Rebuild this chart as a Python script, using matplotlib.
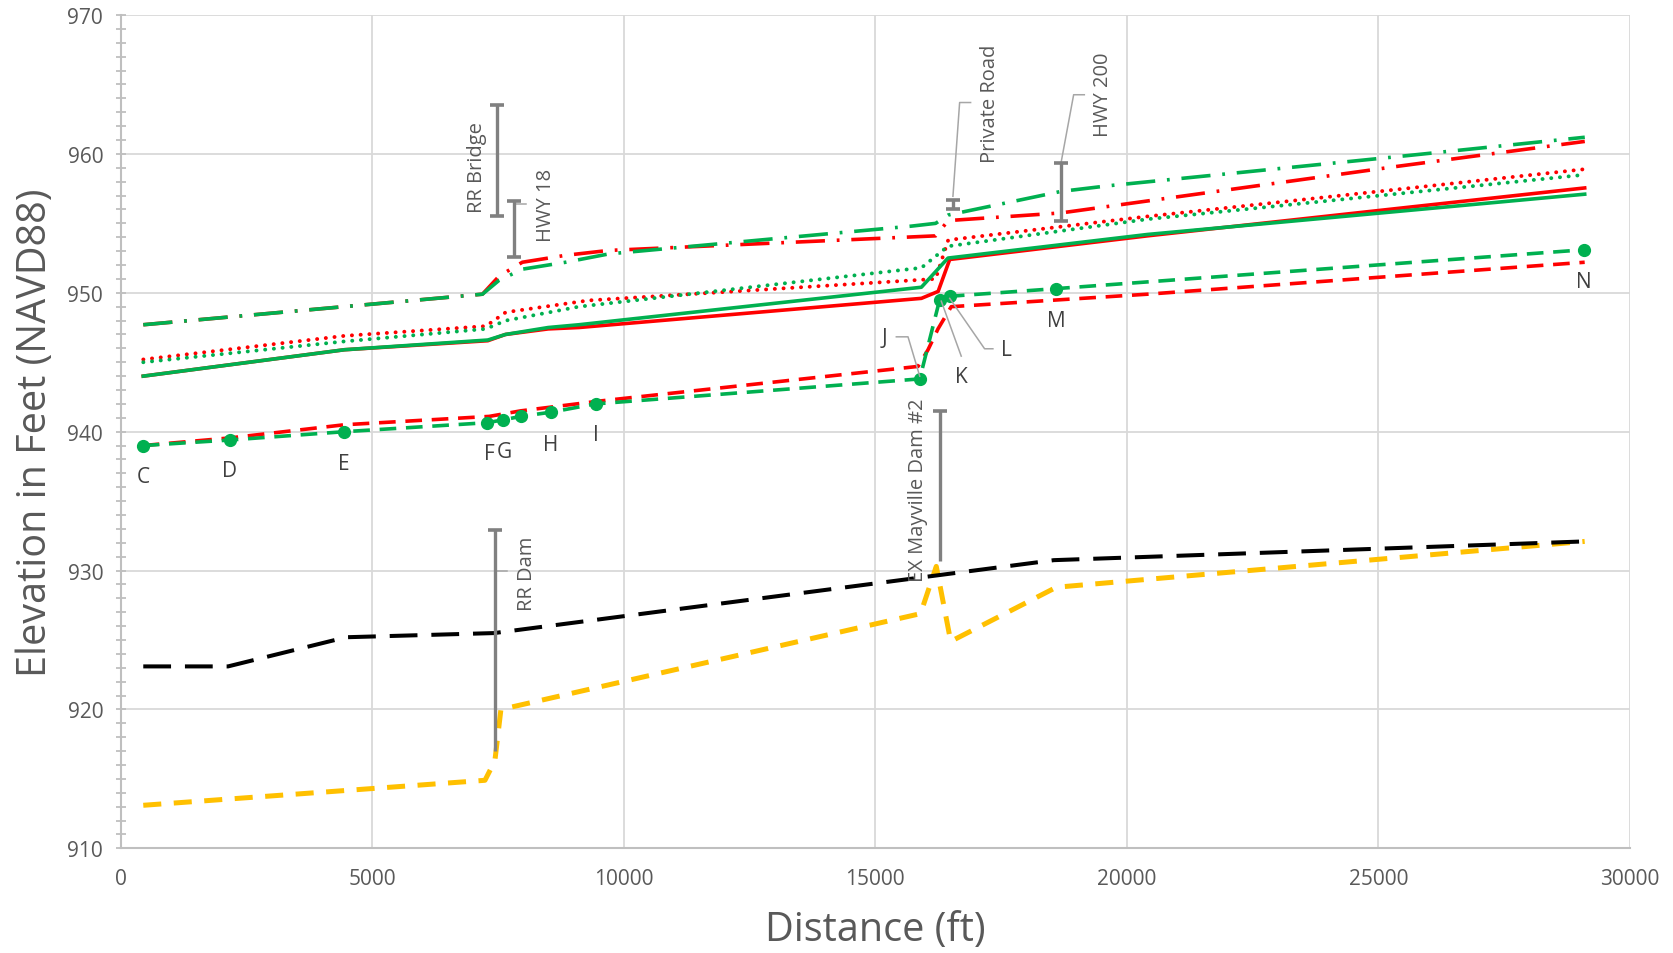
import matplotlib
matplotlib.use("Agg")
import matplotlib.pyplot as plt
from matplotlib.ticker import MultipleLocator

plt.rcParams['font.family'] = ['Open Sans', 'DejaVu Sans']
plt.rcParams['lines.scale_dashes'] = False

# ---------------- data ----------------
# solid water surface lines
red_solid_x = [452, 4450, 7300, 7650, 8500, 9110, 15917, 16250, 16480, 20410, 29100]
red_solid_y = [944.0, 945.9, 946.55, 947.0, 947.4, 947.5, 949.6, 950.1, 952.4, 954.1, 957.55]
green_solid_x = [452, 4450, 7300, 7650, 8500, 9110, 15917, 16445, 20410, 29100]
green_solid_y = [944.0, 945.9, 946.6, 947.0, 947.5, 947.7, 950.4, 952.5, 954.2, 957.1]

# dotted lines
red_dot_x = [452, 4450, 7260, 7657, 9300, 16200, 16450, 20410, 29100]
red_dot_y = [945.2, 946.9, 947.6, 948.6, 949.45, 951.0, 953.8, 955.5, 958.9]
green_dot_x = [452, 4450, 7260, 7657, 9110, 15917, 16445, 20410, 29100]
green_dot_y = [945.0, 946.5, 947.4, 948.0, 949.0, 951.8, 953.35, 955.3, 958.5]

# dash-dot lines
red_dd_x = [452, 7193, 7524, 7986, 8846, 9700, 16200, 16450, 18692, 25367, 29102]
red_dd_y = [947.7, 949.9, 951.2, 952.2, 952.7, 953.05, 954.1, 955.2, 955.75, 959.1, 960.9]
green_dd_x = [452, 7193, 7524, 7986, 8846, 9705, 15718, 16200, 16450, 18692, 19617, 25367, 29102]
green_dd_y = [947.7, 949.9, 950.9, 951.7, 952.2, 952.8, 954.8, 955.0, 955.6, 957.3, 957.7, 959.8, 961.2]

# dashed lines
red_dash_x = [440, 2171, 4451, 7326, 7954, 9506, 15850, 16049, 16247, 16510, 20410, 29100]
red_dash_y = [939.0, 939.55, 940.5, 941.1, 941.5, 942.2, 944.7, 945.9, 947.4, 949.0, 949.9, 952.2]
green_pts_x = [440, 2171, 4451, 7292, 7603, 7954, 8548, 9441, 15884, 16280, 16480, 18592, 29089]
green_pts_y = [939.0, 939.4, 940.0, 940.65, 940.85, 941.1, 941.4, 942.0, 943.8, 949.5, 949.75, 950.3, 953.1]

# channel profiles
black_x = [452, 2137, 4484, 7425, 18550, 29100]
black_y = [923.1, 923.1, 925.2, 925.5, 930.75, 932.1]
yellow_x = [452, 7243, 7440, 7560, 15900, 16213, 16500, 18600, 29100]
yellow_y = [913.1, 914.9, 916.3, 920.0, 926.9, 930.3, 924.9, 928.8, 932.1]

# point labels
pt_labels = ['C', 'D', 'E', 'F', 'G', 'H', 'I', 'J', 'K', 'L', 'M', 'N']
pt_label_x = [447, 2161, 4447, 7325, 7623, 8549, 9441, 15190, 16710, 17602, 18592, 29080]
pt_label_y = [936.8, 937.2, 937.7, 938.4, 938.6, 939.1, 939.8, 946.8, 944.0, 945.9, 948.0, 950.8]

# structures (vertical bars)
struct_names = ['RR Bridge', 'HWY 18', 'Private Road', 'HWY 200', 'EX Mayville Dam #2', 'RR Dam']
struct_x = [7490, 7821, 16544, 18692, 16280, 7438]
struct_top = [963.55, 956.6, 956.7, 959.35, 941.5, 932.9]
struct_bot = [955.5, 952.6, 956.0, 955.2, 930.7, 917.0]
struct_botcap = [True, True, True, True, False, False]
struct_text_x = [7094, 8450, 17272, 19518, 15850, 8085]
struct_text_y = [959.1, 956.35, 963.67, 964.3, 935.85, 929.85]

x_ticks = [0, 5000, 10000, 15000, 20000, 25000, 30000]
y_ticks = [910, 920, 930, 940, 950, 960, 970]

# ---------------- style ----------------
RED = '#FF0000'
GREEN = '#00B050'
YELLOW = '#FFC000'
GRAY = '#808080'
TXT = '#595959'

fig = plt.figure(figsize=(16.74, 9.54), dpi=100)
ax = fig.add_axes([0.072, 0.1097, 0.9017, 0.8735])

ax.set_xlim(0, 30000)
ax.set_ylim(910, 970)
ax.set_xticks(x_ticks)
ax.set_yticks(y_ticks)
ax.yaxis.set_minor_locator(MultipleLocator(1))
ax.grid(True, which='major', color='#D9D9D9', lw=1.3)
ax.set_axisbelow(True)
for s in ['top', 'right']:
    ax.spines[s].set_visible(False)
for s in ['left', 'bottom']:
    ax.spines[s].set_color('#BFBFBF')
    ax.spines[s].set_linewidth(1.5)
ax.tick_params(axis='y', which='both', direction='inout', length=7, width=1.3,
               color='#BFBFBF', labelsize=15, labelcolor=TXT, pad=9)
ax.tick_params(axis='x', which='both', length=0, labelsize=15, labelcolor=TXT, pad=14)

# channel profiles
ax.plot(yellow_x, yellow_y, color=YELLOW, lw=3.6, ls=(0, (13, 9)), zorder=2)
ax.plot(black_x, black_y, color='black', lw=2.9, ls=(0, (20, 10)), zorder=2)

# dashed
ax.plot(red_dash_x, red_dash_y, color=RED, lw=2.6, ls=(0, (12, 7)), zorder=3)
ax.plot(green_pts_x, green_pts_y, color=GREEN, lw=2.6, ls=(0, (12, 7)),
        marker='o', ms=8.5, zorder=4)

# dash-dot
ax.plot(red_dd_x, red_dd_y, color=RED, lw=2.6, ls=(0, (21, 8.5, 2, 8.5)), zorder=3)
ax.plot(green_dd_x, green_dd_y, color=GREEN, lw=2.6, ls=(0, (21, 8.5, 2, 8.5)), zorder=3)

# dotted
ax.plot(red_dot_x, red_dot_y, color=RED, lw=2.8, ls=(0, (0.1, 6.2)),
        dash_capstyle='round', zorder=3)
ax.plot(green_dot_x, green_dot_y, color=GREEN, lw=2.8, ls=(0, (0.1, 6.2)),
        dash_capstyle='round', zorder=3)

# solid
ax.plot(red_solid_x, red_solid_y, color=RED, lw=2.6, zorder=3)
ax.plot(green_solid_x, green_solid_y, color=GREEN, lw=2.6, zorder=3)

# structure bars
for name, x, top, bot, bc, tx, ty in zip(struct_names, struct_x, struct_top, struct_bot,
                                          struct_botcap, struct_text_x, struct_text_y):
    ax.plot([x, x], [bot, top], color=GRAY, lw=2.4, zorder=5, solid_capstyle='butt')
    ax.plot([x], [top], marker='_', ms=10, mew=2.6, color=GRAY, zorder=5)
    if bc:
        ax.plot([x], [bot], marker='_', ms=10, mew=2.6, color=GRAY, zorder=5)
    ax.text(tx, ty, name, rotation=90, ha='center', va='center', fontsize=14.5,
            color=TXT, zorder=6)

# leader lines
LL = dict(color='#A6A6A6', lw=1.1, zorder=4)
ax.plot([7821, 8050], [956.4, 956.4], **LL)
ax.plot([16544, 16677, 16895], [956.95, 963.7, 963.7], **LL)
ax.plot([18692, 18943, 19155], [959.35, 964.26, 964.26], **LL)
ax.plot([7458, 7458, 7688], [932.7, 930.0, 930.0], **LL)
ax.plot([15419, 15651, 15884], [946.83, 946.83, 944.0], **LL)
ax.plot([16709, 16312], [945.44, 949.4], **LL)
ax.plot([17338, 17173, 16480], [945.97, 945.97, 949.6], **LL)

# point labels
for lab, x, y in zip(pt_labels, pt_label_x, pt_label_y):
    ax.text(x, y, lab, ha='center', va='center', fontsize=15, color='#404040', zorder=6)

ax.set_xlabel('Distance (ft)', fontsize=28.5, color=TXT)
ax.set_ylabel('Elevation in Feet (NAVD88)', fontsize=28.5, color=TXT)
ax.xaxis.set_label_coords(0.5, -0.073)
ax.yaxis.set_label_coords(-0.0428, 0.5)

fig.savefig('out.png', dpi=100)
